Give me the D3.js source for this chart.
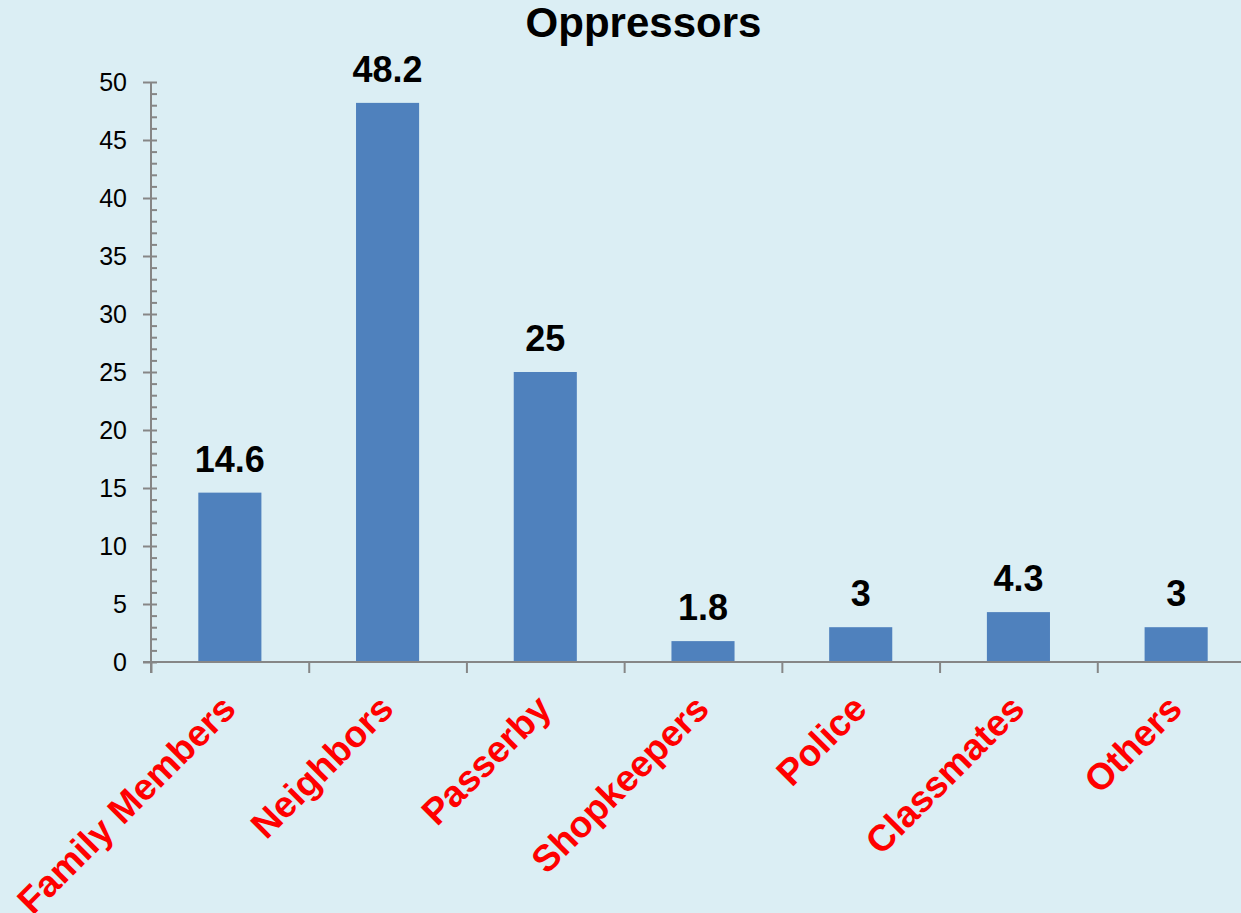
<!DOCTYPE html>
<html>
<head>
<meta charset="utf-8">
<script src="https://cdn.jsdelivr.net/npm/d3@7"></script>
<style>
  html, body { margin: 0; padding: 0; background: #dbeef4; }
  svg { display: block; font-family: "Liberation Sans", Arial, sans-serif; }
</style>
</head>
<body>
<svg width="1241" height="913"></svg>
<script>
// DATA

var categories = ["Family Members", "Neighbors", "Passerby", "Shopkeepers", "Police", "Classmates", "Others"];
var values = [14.6, 48.2, 25, 1.8, 3, 4.3, 3];
var valueLabels = ["14.6", "48.2", "25", "1.8", "3", "4.3", "3"];
var yTicks = [0, 5, 10, 15, 20, 25, 30, 35, 40, 45, 50];
var title = "Oppressors";

// SETUP

var svg = d3.select("svg"),
    plotLeft = 151, plotRight = 1255, plotTop = 82, plotBottom = 662;

svg.append("rect")
    .attr("width", 1241).attr("height", 913)
    .attr("fill", "#dbeef4");

var x = d3.scaleBand().domain(categories).range([plotLeft, plotRight]).padding(0),
    xb = d3.scaleLinear().domain([0, categories.length]).range([plotLeft, plotRight]),
    y = d3.scaleLinear().domain([0, 50]).range([plotBottom, plotTop]);

var barW = x.bandwidth() * 0.4;

// title
svg.append("text")
    .attr("x", 643.5).attr("y", 37)
    .attr("text-anchor", "middle")
    .attr("font-size", 42).attr("font-weight", "bold")
    .attr("fill", "#000")
    .text(title);

// bars
svg.selectAll(".bar")
    .data(values)
    .enter().append("rect")
    .attr("class", "bar")
    .attr("x", function (d, i) { return x(categories[i]) + (x.bandwidth() - barW) / 2; })
    .attr("y", function (d) { return y(d); })
    .attr("width", barW)
    .attr("height", function (d) { return y(0) - y(d); })
    .attr("fill", "#4f81bd");

// value labels
svg.selectAll(".vlabel")
    .data(values)
    .enter().append("text")
    .attr("class", "vlabel")
    .attr("x", function (d, i) { return x(categories[i]) + x.bandwidth() / 2; })
    .attr("y", function (d) { return y(d) - 21; })
    .attr("text-anchor", "middle")
    .attr("font-size", 36).attr("font-weight", "bold")
    .attr("fill", "#000")
    .text(function (d, i) { return valueLabels[i]; });

// AXES

var axisColor = "#868686";

// y axis: major ticks with labels
var gy = svg.append("g")
    .attr("transform", "translate(" + plotLeft + ",0)")
    .call(d3.axisLeft(y).tickValues(yTicks).tickSizeInner(8).tickSizeOuter(0).tickPadding(16));
gy.select(".domain").remove();
gy.selectAll("line").attr("stroke", axisColor).attr("stroke-width", 2);
gy.selectAll("text").attr("font-size", 25).attr("fill", "#000")
    .attr("font-family", "Liberation Sans, Arial, sans-serif");

// y axis: minor ticks inside
var gyMinor = svg.append("g")
    .attr("transform", "translate(" + plotLeft + ",0)")
    .call(d3.axisRight(y).tickValues(d3.range(0, 51, 1)).tickSizeInner(6).tickSizeOuter(0).tickFormat(""));
gyMinor.select(".domain").remove();
gyMinor.selectAll("line").attr("stroke", axisColor).attr("stroke-width", 2);

// x axis ticks at category boundaries
var gx = svg.append("g")
    .attr("transform", "translate(0," + plotBottom + ")")
    .call(d3.axisBottom(xb).tickValues(d3.range(0, categories.length + 1)).tickSizeInner(11).tickSizeOuter(0).tickFormat(""));
gx.select(".domain").remove();
gx.selectAll("line").attr("stroke", axisColor).attr("stroke-width", 2);

// axis lines
svg.append("line")
    .attr("x1", plotLeft).attr("x2", plotLeft)
    .attr("y1", y(50)).attr("y2", plotBottom + 11)
    .attr("stroke", axisColor).attr("stroke-width", 2);
svg.append("line")
    .attr("x1", plotLeft - 8).attr("x2", plotRight)
    .attr("y1", plotBottom).attr("y2", plotBottom)
    .attr("stroke", axisColor).attr("stroke-width", 2);

// category labels
svg.selectAll(".clabel")
    .data(categories)
    .enter().append("text")
    .attr("class", "clabel")
    .attr("transform", function (d) {
        return "translate(" + (x(d) + x.bandwidth() / 2 + 8) + "," + (plotBottom + 49) + ") rotate(-45)";
    })
    .attr("text-anchor", "end")
    .attr("font-size", 37).attr("font-weight", "bold")
    .attr("fill", "#ff0000")
    .text(function (d) { return d; });
</script>
</body>
</html>
